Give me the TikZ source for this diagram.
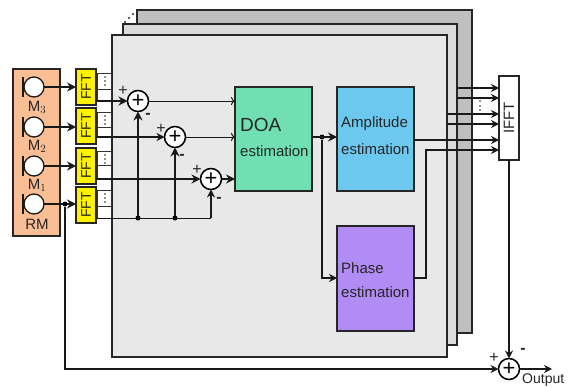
\documentclass[tikz,border=0pt]{standalone}
\usepackage{fontspec}
\setmainfont{Liberation Sans}
\usetikzlibrary{arrows.meta,calc}
\newcommand{\fs}[1]{\fontsize{#1}{#1}\selectfont}
\tikzset{
  x=1pt,y=-1pt,
  box/.style={draw=black!85,line width=1.5pt,inner sep=0pt,outer sep=0pt,rectangle,align=left},
  panel/.style={box,anchor=north west},
  fftbox/.style={box,fill=yellow,minimum width=20pt,minimum height=36pt,font=\fs{14},text=black!85},
  cell/.style={draw=black!80,line width=.8pt,fill=white,inner sep=0pt,outer sep=0pt,minimum width=14pt,anchor=north west},
  mic/.style={circle,draw=black!90,line width=1.3pt,fill=white,minimum size=20pt,inner sep=0pt,outer sep=0pt},
  bar/.style={line width=1.7pt,draw=black!90},
  summer/.style={circle,draw=black,line width=1.5pt,fill=white,minimum size=21pt,inner sep=0pt,outer sep=0pt,font=\fs{22}},
  lab/.style={font=\fs{15},text=black!85,inner sep=0pt},
  sign/.style={font=\fs{16},text=black!85,inner sep=0pt},
  thick arrow/.style={line width=1.7pt,draw=black!90,-{Stealth[length=9pt,width=9pt]}},
  mid arrow/.style={line width=1.5pt,draw=black!90,-{Stealth[length=8pt,width=8pt]}},
  open arrow/.style={line width=1pt,draw=black!90,-{To[length=4pt,width=8pt]}},
  thin line/.style={line width=1pt,draw=black!90},
  junction/.style={circle,fill=black,minimum size=5pt,inner sep=0pt,outer sep=0pt},
  dotfill/.style={circle,fill=black!85,minimum size=2pt,inner sep=0pt},
}
\begin{document}
\begin{tikzpicture}
\useasboundingbox (0,0) rectangle (570,388);
% stacked panels
\node[panel,fill=black!25,minimum width=335pt,minimum height=323pt] (back) at (137,10) {};
\node[panel,fill=black!14,minimum width=334pt,minimum height=321pt] (midp) at (123,24) {};
\node[panel,fill=black!9,minimum width=335pt,minimum height=322pt] (front) at (112,35) {};
\foreach \i/\x/\y in {a/125/22,b/129/18,c/133/14}{\node[dotfill,minimum size=2.4pt] (pd\i) at (\x,\y) {};}
% mic box
\node[panel,minimum width=47pt,minimum height=167pt,fill={rgb,255:red,250;green,190;blue,148}] (micbox) at (13,69) {};
\foreach \n/\y/\t/\ly in {3/87/M$_{3}$/107,2/127/M$_{2}$/146,1/166/M$_{1}$/185,0/204/RM/224}{
  \node[mic] (m\n) at (34,\y) {};
  \coordinate (mbt\n) at (23,\y-10);
  \coordinate (mbb\n) at (23,\y+10);
  \draw[bar] (mbt\n) -- (mbb\n);
  \node[lab] (ml\n) at (37,\ly) {\t};
}
% cells
\foreach \n/\a/\b/\c in {3/73/89/100,2/112/127/137,1/151/165/178,0/190/206/218}{
  \node[cell,minimum height=\b pt-\a pt] (ca\n) at (97,\a) {};
  \node[cell,minimum height=\c pt-\b pt] (cb\n) at (97,\b) {};
  \foreach \k in {1,2,3}{\node[dotfill,minimum size=1.8pt] (cd\n\k) at (105,\a+\k*4) {};}
}
% FFT
\node[fftbox] (f3) at (86,87) {\rotatebox{90}{FFT}};
\node[fftbox] (f2) at (86,126) {\rotatebox{90}{FFT}};
\node[fftbox] (f1) at (86,166) {\rotatebox{90}{FFT}};
\node[fftbox] (f0) at (86,205) {\rotatebox{90}{FFT}};
% summers
\node[summer] (s1) at (138,101) {+};
\node[summer] (s2) at (175,137) {+};
\node[summer] (s3) at (211,179) {+};
% blocks
\node[box,anchor=north west,fill={rgb,255:red,112;green,224;blue,178},minimum width=77pt,minimum height=104pt] (doa) at (235,87) {};
\node[lab,anchor=west,font=\fs{19}] (doat) at (240,125) {DOA};
\node[lab,anchor=west] (doae) at (240,151) {estimation};
\node[box,anchor=north west,fill={rgb,255:red,108;green,200;blue,238},minimum width=77pt,minimum height=104pt] (amp) at (337,87) {};
\node[lab,anchor=west] (ampt) at (341,124) {Amplitude};
\node[lab,anchor=west] (ampe) at (341,149) {estimation};
\node[box,anchor=north west,fill={rgb,255:red,178;green,140;blue,245},minimum width=77pt,minimum height=105pt] (pha) at (337,226) {};
\node[lab,anchor=west] (phat) at (341,268) {Phase};
\node[lab,anchor=west] (phae) at (341,292) {estimation};
% IFFT
\node[box,anchor=north west,fill=white,minimum width=20pt,minimum height=84pt,font=\fs{15},text=black!85] (ifft) at (499,76) {\rotatebox{90}{IFFT}};
\node[summer] (out) at (509,369) {+};
% mic to fft
\foreach \n in {3,2,1,0}{\draw[thick arrow] (m\n.east) -- (m\n.east -| f\n.west);}
% fft to summers
\draw[thick arrow] (f3.east |- s1.west) -- (s1.west);
\draw[mid arrow] (f2.east |- s2.west) -- (s2.west);
\draw[thick arrow,line width=2pt] (f1.east |- s3.west) -- (s3.west);
% RM bus
\coordinate (busstart) at (96,218);
\coordinate (bus3) at (s3.south |- busstart);
\node[junction] (j1) at (s1.south |- busstart) {};
\node[junction] (j2) at (s2.south |- busstart) {};
\draw[thin line] (busstart) -- (bus3);
\draw[mid arrow] (bus3) -- (s3.south);
\draw[thick arrow] (j1) -- (s1.south);
\draw[thick arrow] (j2) -- (s2.south);
% signs
\node[sign] (p1) at (123,91) {+};
\node[sign] (n1) at (148,116) {\textbf{-}};
\node[sign] (p2) at (161,129) {+};
\node[sign] (n2) at (182,157) {\textbf{-}};
\node[sign] (p3) at (197,170) {+};
\node[sign] (n3) at (219,200) {\textbf{-}};
% summers to DOA
\draw[open arrow] (s1.east) -- (s1.east -| doa.west);
\draw[open arrow] (s2.east) -- (s2.east -| doa.west);
\draw[thick arrow] (s3.east) -- (s3.east -| doa.west);
% DOA to estimators
\coordinate (doaout) at (doa.east |- 0,137);
\node[junction] (j3) at (322,137) {};
\draw[thick arrow,line width=2pt] (doaout) -- (doaout -| amp.west);
\coordinate (phin) at (pha.west |- 0,278);
\draw[thin line,line width=1.2pt,-{Stealth[length=8pt,width=8pt]}] (j3) -- (j3 |- phin) -- (phin);
% to IFFT
\foreach \y/\n in {88/a,98/b}{\coordinate (c\n) at (457,\y); \draw[mid arrow] (c\n) -- (c\n -| ifft.west);}
\foreach \y/\n in {114/c,124/d}{\coordinate (c\n) at (447,\y); \draw[mid arrow] (c\n) -- (c\n -| ifft.west);}
\coordinate (ampout) at (amp.east |- 0,140);
\draw[mid arrow] (ampout) -- (ampout -| ifft.west);
\coordinate (phout) at (pha.east |- 0,278);
\coordinate (phup) at (426,278);
\coordinate (phtop) at (426,150);
\draw[mid arrow] (phout) -- (phup) -- (phtop) -- (phtop -| ifft.west);
\foreach \k/\y in {a/101,b/106,c/110}{\node[dotfill,minimum size=1.8pt] (id\k) at (480,\y) {};}
% output
\draw[mid arrow] (ifft.south -| out.north) -- (out.north);
\node[junction] (j4) at (65,204) {};
\draw[thin line,line width=1.3pt,-{Stealth[length=8pt,width=8pt]}] (j4) -- (j4 |- out.west) -- (out.west);
\coordinate (outend) at (552,369);
\draw[mid arrow] (out.east) -- (outend);
\node[sign] (pout) at (494,358) {+};
\node[sign] (nout) at (523,351) {\textbf{-}};
\node[lab,font=\fs{14},anchor=south west] (outl) at (522,387) {Output};
\end{tikzpicture}
\end{document}
